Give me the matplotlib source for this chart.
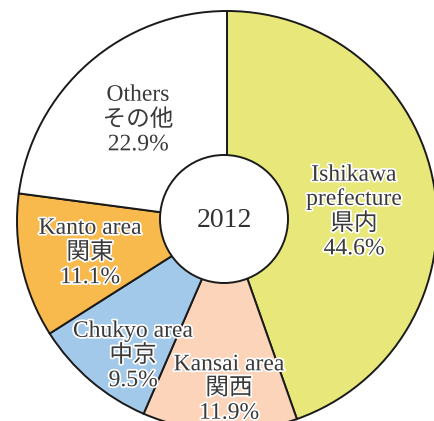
import matplotlib
matplotlib.use("Agg")
import matplotlib.pyplot as plt
import matplotlib.patheffects as pe
from matplotlib.patches import Circle

# Data
categories_en = ["Ishikawa\nprefecture", "Kansai area", "Chukyo area", "Kanto area", "Others"]
categories_ja = ["県内", "関西", "中京", "関東", "その他"]
shares = [44.6, 11.9, 9.5, 11.1, 22.9]
colors = ["#e8e87a", "#fbd4ba", "#a3c9ea", "#f8b94d", "#ffffff"]
center_label = "2012"

W, H = 435, 421
fig = plt.figure(figsize=(W / 100, H / 100), dpi=100)
ax = fig.add_axes([0, 0, 1, 1])

cx, cy, R = 227, H - 221, 210
ax.pie(shares, colors=colors, startangle=90, counterclock=False,
       center=(cx, cy), radius=R, normalize=True,
       wedgeprops=dict(edgecolor="#1a1a1a", linewidth=1.4))
ax.set_xlim(0, W)
ax.set_ylim(0, H)
ax.set_aspect("equal")
ax.axis("off")

ax.add_patch(Circle((224, H - 219), 64, facecolor="white", edgecolor="#1a1a1a",
                    linewidth=1.4, zorder=5))

fam = ["Liberation Serif", "Noto Sans CJK JP"]
stroke = [pe.withStroke(linewidth=2.5, foreground="white")]
ax.text(224, H - 221, center_label, ha="center", va="center", fontsize=20,
        family=fam, color="#333333", zorder=6)

# label anchor positions in pixels (layout)
label_pos = [(354, 212), (229, 389), (133, 356), (90, 253), (138, 120)]
for en, ja, v, (x, y) in zip(categories_en, categories_ja, shares, label_pos):
    txt = f"{en}\n{ja}\n{v:.1f}%"
    ax.text(x, H - y, txt, ha="center", va="center", fontsize=17, family=fam,
            color="#3a3a3a", linespacing=1.2, path_effects=stroke, zorder=6)

fig.savefig("out.png", dpi=100)
